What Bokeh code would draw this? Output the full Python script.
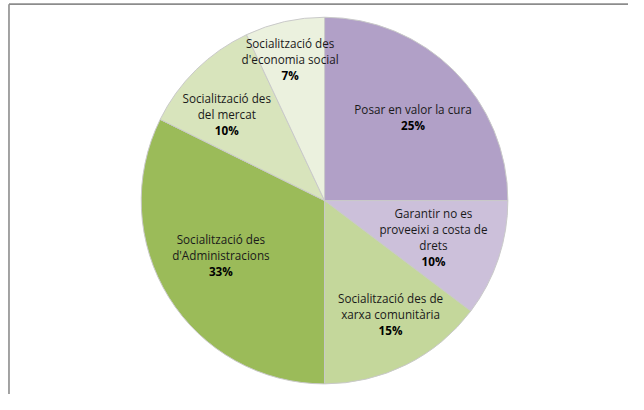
import numpy as np
from bokeh.plotting import figure
from bokeh.models import ColumnDataSource, Range1d
from bokeh.core.properties import value
from bokeh.embed import file_html
from bokeh.resources import INLINE

# ---- data ----
categories = [
    "Posar en valor la cura",
    "Garantir no es proveeixi a costa de drets",
    "Socialització des de xarxa comunitària",
    "Socialització des d'Administracions",
    "Socialització des del mercat",
    "Socialització des d'economia social",
]
shares = [25.0, 10.3, 14.7, 32.3, 10.7, 7.0]          # slice sizes as drawn
pct_labels = ["25%", "10%", "15%", "33%", "10%", "7%"]  # labels as printed
label_lines = [
    ["Posar en valor la cura"],
    ["Garantir no es", "proveeixi a costa de", "drets"],
    ["Socialització des de", "xarxa comunitària"],
    ["Socialització des", "d'Administracions"],
    ["Socialització des", "del mercat"],
    ["Socialització des", "d'economia social"],
]
colors = ["#B1A0C7", "#CCC0DA", "#C4D79B", "#9BBB59", "#D8E4BC", "#EBF1DE"]

# ---- layout: the whole 644x410 chart, fitted into the window ----
RW, RH = 644, 410          # chart coordinate space
W, H = 628, 394            # figure size in pixels
def py(y):
    return RH - y

cx, cy, R = 332.3, py(208.2), 188
label_pos = [(423, 113), (444, 221), (400, 310), (226, 248), (232, 101), (297, 44)]
line_gap = 16.7

p = figure(width=W, height=H, output_backend="svg", toolbar_location=None,
           x_range=Range1d(0, RW), y_range=Range1d(0, RH), min_border=0,
           outline_line_color=None, background_fill_color="white",
           border_fill_color="white")
p.axis.visible = False
p.grid.visible = False

vals = np.array(shares)
frac = vals / vals.sum()
cum = np.concatenate([[0], np.cumsum(frac)])
start = np.pi / 2 - cum[:-1] * 2 * np.pi
end = np.pi / 2 - cum[1:] * 2 * np.pi

src = ColumnDataSource(dict(x=[cx] * len(vals), y=[cy] * len(vals),
                            start=list(end), end=list(start), color=colors,
                            cat=categories))
p.wedge(x="x", y="y", radius=R, start_angle="start", end_angle="end",
        direction="anticlock", fill_color="color", line_color="#C9C9C9",
        line_width=1, source=src)

# labels
tx, ty, tt = [], [], []
bx, by, bt = [], [], []
for (lx, ly), lines, pct in zip(label_pos, label_lines, pct_labels):
    for i, ln in enumerate(lines):
        tx.append(lx); ty.append(py(ly + i * line_gap)); tt.append(ln)
    bx.append(lx); by.append(py(ly + len(lines) * line_gap)); bt.append(pct)

p.text(x=tx, y=ty, text=tt, text_align="center", text_baseline="middle",
       text_font=value("Open Sans"), text_font_size="11.7px", text_color="#1a1a1a")
p.text(x=bx, y=by, text=bt, text_align="center", text_baseline="middle",
       text_font=value("Open Sans"), text_font_size="11.7px", text_font_style="bold",
       text_color="#000000")

# chart-area frame (top and left edges visible)
p.line(x=[8.7, 8.7], y=[0, py(3.8)], line_color="#8C8C8C", line_width=1.6)
p.line(x=[8.7, RW], y=[py(3.8), py(3.8)], line_color="#8C8C8C", line_width=1.6)

open("out.html", "w").write(file_html(p, INLINE))
